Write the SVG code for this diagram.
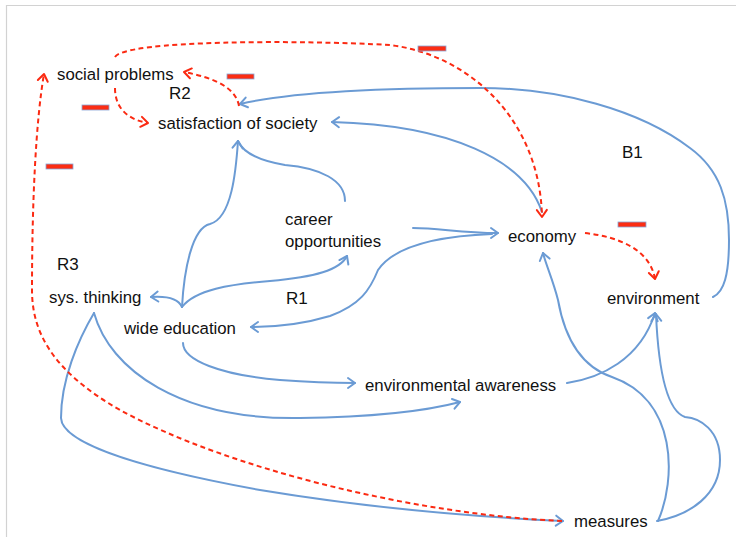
<svg xmlns="http://www.w3.org/2000/svg" width="736" height="537" viewBox="0 0 736 537">
<defs>
<style>
.t{font-family:"Liberation Sans",Arial,sans-serif;font-size:16.8px;fill:#111}
.l{font-family:"Liberation Sans",Arial,sans-serif;font-size:17px;fill:#111}
.b{fill:none;stroke:#6b9bd4;stroke-width:2;stroke-linecap:round}
.r{fill:none;stroke:#fb2a12;stroke-width:2;stroke-dasharray:5 3.5}
.m{fill:#fb2d14;stroke:#8aa6d6;stroke-width:0.8}
</style>
<marker id="ab" markerUnits="userSpaceOnUse" viewBox="-10 -10 20 20" markerWidth="20" markerHeight="20" refX="0" refY="0" orient="auto">
<path d="M -7 -5 L 0 0 L -7 5" fill="none" stroke="#6b9bd4" stroke-width="2" stroke-linecap="round" stroke-linejoin="round"/>
</marker>
<marker id="ar" markerUnits="userSpaceOnUse" viewBox="-10 -10 20 20" markerWidth="20" markerHeight="20" refX="0" refY="0" orient="auto">
<path d="M -7 -5 L 0 0 L -7 5" fill="none" stroke="#fb2a12" stroke-width="2" stroke-linecap="round" stroke-linejoin="round"/>
</marker>
</defs>
<rect width="736" height="537" fill="#fff"/>
<path d="M 6.5 537 L 6.5 5.5 L 736 5.5" fill="none" stroke="#d2d2d2" stroke-width="1.2"/>

<g id="connectors">
<!-- economy -> satisfaction of society -->
<path class="b" d="M 542 212 C 525 160, 450 125, 332 122" marker-end="url(#ab)"/>
<!-- environment -> satisfaction (B1) -->
<path class="b" d="M 713 297 C 724 292, 729 275, 729 240 C 729 200, 720 170, 690 148 C 640 110, 560 88, 480 88 C 400 88, 300 90, 240 104" marker-end="url(#ab)"/>
<!-- wide education -> satisfaction -->
<path class="b" d="M 182 307 C 184 270, 192 228, 210 224 C 232 218, 236 170, 238 141" marker-end="url(#ab)"/>
<!-- career opportunities -> satisfaction -->
<path class="b" d="M 345 201 C 345 180, 320 168, 285 165 C 255 160, 242 150, 238 141"/>
<!-- wide education -> career opportunities -->
<path class="b" d="M 182 307 C 195 290, 230 284, 270 281 C 315 277, 340 270, 347 256" marker-end="url(#ab)"/>
<!-- wide education -> sys. thinking -->
<path class="b" d="M 182 307 C 178 298, 165 296, 151 297" marker-end="url(#ab)"/>
<!-- career opportunities -> economy -->
<path class="b" d="M 413 228 C 440 228, 460 233, 498 233" marker-end="url(#ab)"/>
<!-- economy -> wide education (R1) -->
<path class="b" d="M 492 234 C 440 236, 395 245, 378 270 C 370 290, 360 305, 330 316 C 300 325, 275 327, 251 327" marker-end="url(#ab)"/>
<!-- wide education -> environmental awareness -->
<path class="b" d="M 183 343 C 183 360, 220 375, 280 380 C 320 383, 340 383, 355 383" marker-end="url(#ab)"/>
<!-- sys. thinking -> environmental awareness -->
<path class="b" d="M 94 313 C 110 370, 180 420, 300 418 C 380 417, 430 410, 460 402" marker-end="url(#ab)"/>
<!-- sys. thinking -> measures -->
<path class="b" d="M 94 313 C 78 340, 61 380, 61 418 C 62 445, 150 470, 260 490 C 380 510, 500 518, 563 521" marker-end="url(#ab)"/>
<!-- environmental awareness -> environment -->
<path class="b" d="M 567 383 C 600 378, 640 360, 655 313" marker-end="url(#ab)"/>
<!-- measures -> environment -->
<path class="b" d="M 657 521 C 690 515, 720 495, 720 460 C 720 430, 700 418, 685 417 C 665 410, 658 360, 656 314" marker-end="url(#ab)"/>
<!-- measures -> economy -->
<path class="b" d="M 658 521 C 676 480, 678 400, 612 377 C 585 368, 566 345, 558 300 C 553 280, 546 265, 543 253" marker-end="url(#ab)"/>

<!-- red dashed -->
<path class="r" d="M 239 106 C 236 88, 215 78, 184 72" marker-end="url(#ar)"/>
<path class="r" d="M 115 88 C 115 110, 130 120, 148 123" marker-end="url(#ar)"/>
<path class="r" d="M 115 57 C 125 40, 300 40, 390 45 C 470 55, 540 120, 542 217" marker-end="url(#ar)"/>
<path class="r" d="M 585 233 C 620 237, 650 250, 655 279" marker-end="url(#ar)"/>
<path class="r" d="M 562 521 C 420 515, 230 470, 120 410 C 50 370, 32 330, 32 290 C 32 200, 36 120, 44 74" marker-end="url(#ar)"/>
</g>

<g id="node-social-problems"><text class="t" x="57" y="80">social problems</text></g>
<g id="node-satisfaction"><text class="t" x="158" y="129">satisfaction of society</text></g>
<g id="node-career"><text class="t" x="285" y="225">career</text><text class="t" x="285" y="247">opportunities</text></g>
<g id="node-economy"><text class="t" x="508" y="242">economy</text></g>
<g id="node-sys-thinking"><text class="t" x="49" y="303">sys. thinking</text></g>
<g id="node-wide-education"><text class="t" x="124" y="334">wide education</text></g>
<g id="node-environment"><text class="t" x="607" y="304">environment</text></g>
<g id="node-env-awareness"><text class="t" x="365" y="391">environmental awareness</text></g>
<g id="node-measures"><text class="t" x="574" y="527">measures</text></g>

<g id="loop-labels">
<text class="l" x="169" y="99">R2</text>
<text class="l" x="622" y="158">B1</text>
<text class="l" x="57" y="270">R3</text>
<text class="l" x="286" y="304">R1</text>
</g>

<g id="polarity">
<rect class="m" x="418" y="46" width="28" height="5"/>
<rect class="m" x="227" y="74" width="27" height="5"/>
<rect class="m" x="82" y="105" width="27" height="5"/>
<rect class="m" x="46" y="164" width="27" height="5"/>
<rect class="m" x="618" y="222" width="28" height="5"/>
</g>
</svg>
